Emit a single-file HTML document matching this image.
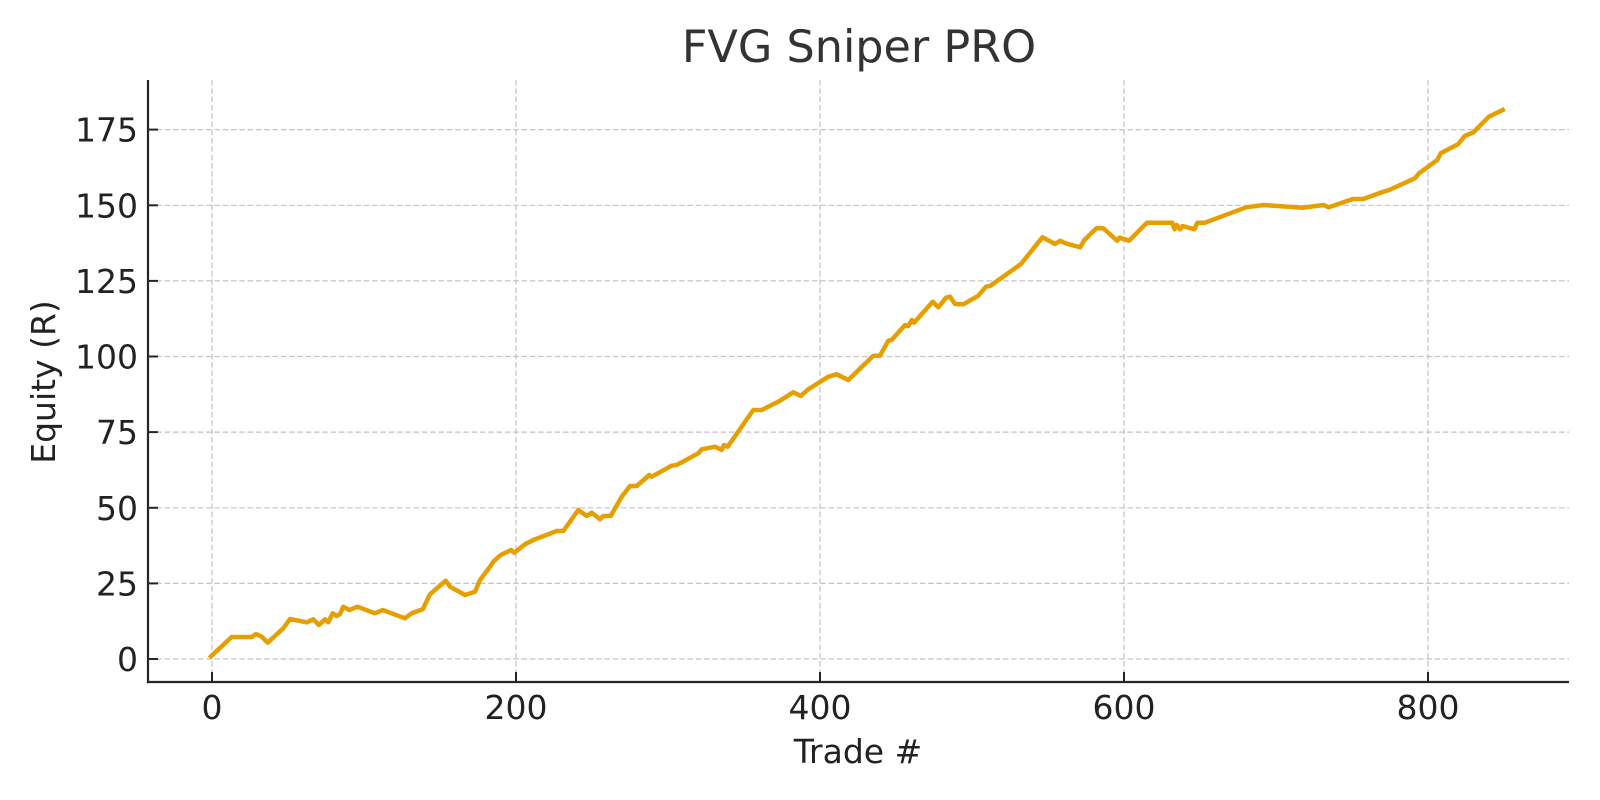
<!DOCTYPE html>
<html>
<head>
<meta charset="utf-8">
<style>
  html, body { margin: 0; padding: 0; background: #ffffff; }
  svg { display: block; }
  text { font-family: "DejaVu Sans", "Liberation Sans", sans-serif; }
</style>
</head>
<body>
<svg width="1600" height="800" viewBox="0 0 1600 800" xmlns="http://www.w3.org/2000/svg">
  <rect x="0" y="0" width="1600" height="800" fill="#ffffff"/>

  <!-- grid -->
  <g stroke="#c9bfcd" stroke-width="1.2" stroke-dasharray="5.5 2.8" fill="none">
    <line x1="212" y1="80" x2="212" y2="682"/>
    <line x1="516" y1="80" x2="516" y2="682"/>
    <line x1="820" y1="80" x2="820" y2="682"/>
    <line x1="1124" y1="80" x2="1124" y2="682"/>
    <line x1="1428" y1="80" x2="1428" y2="682"/>

    <line x1="148" y1="659" x2="1569" y2="659"/>
    <line x1="148" y1="583.4" x2="1569" y2="583.4"/>
    <line x1="148" y1="507.8" x2="1569" y2="507.8"/>
    <line x1="148" y1="432.1" x2="1569" y2="432.1"/>
    <line x1="148" y1="356.5" x2="1569" y2="356.5"/>
    <line x1="148" y1="280.9" x2="1569" y2="280.9"/>
    <line x1="148" y1="205.3" x2="1569" y2="205.3"/>
    <line x1="148" y1="129.6" x2="1569" y2="129.6"/>
  </g>

  <!-- equity line -->
  <polyline fill="none" stroke="#E69F00" stroke-width="4.5" stroke-linejoin="round" stroke-linecap="square"
    points="211,656.3 231.7,637 251.7,637 256,634 261.7,636.7 267.7,642.7 283.3,628.3 290,619 306.7,622.3 313.3,619.3 319,625 325,619.3 328.3,622.3 332.7,613.3 336.7,616 340,614 343.3,606.7 349.3,610 357.3,606.7 375,613.3 382.7,610 405,618.3 411.7,613.3 422.7,609.3 430,594.3 445.7,580.7 450,586.7 465,595 475,591.7 480,580 490,566.7 493.3,561.7 500.7,555 511,550 514.3,552.7 525,544.3 533.3,540 556.7,531 563.3,531 578.3,510 586.7,516 591.7,512.7 600,519.3 603.3,516 610.7,516 621.7,496.7 630,486 636.7,486 649.3,475 651.7,476.7 671.7,465.7 676.7,465 698.3,453.3 701.7,449.3 715,446.7 721.7,450 724,445 727.7,446.7 753.3,410 761.7,410 780,400.7 793.3,392.3 800.7,396 808.3,389.3 828.3,376.7 836.7,374.3 848.3,380 873.3,355.7 880,355.7 888.3,340.7 891.7,340 905,325 908.3,326 911.7,320 914,322.7 932.7,301.7 938.3,307.3 946,297.7 950,296.7 955,304 963.3,304.3 978.3,295.7 986,286.7 990,286 1021,264 1042.4,237.3 1055.1,244 1060.3,240.7 1065.4,243.3 1080.2,247.3 1084.4,240 1096.4,228.3 1103.3,228.3 1117.1,240.7 1119.5,237.7 1129.1,240.7 1147,222.7 1172.2,222.7 1174.6,229.3 1176.7,225 1180.1,229.3 1182.5,226 1194.5,229.3 1197.3,222.7 1204.9,222.7 1246.2,207.3 1263.4,205 1303,207.7 1323.7,205 1328.8,207.3 1352.9,199 1363.3,199 1380.5,192.7 1389.1,190 1414.9,178.3 1419,173.3 1437.3,160 1440.7,153.3 1458,144.3 1464.8,136 1473.5,132.3 1488.9,116.7 1502.7,110"/>

  <!-- spines -->
  <g stroke="#262626" stroke-width="2.2" fill="none">
    <line x1="148" y1="80" x2="148" y2="683.1"/>
    <line x1="146.9" y1="682" x2="1569" y2="682"/>
  </g>

  <!-- ticks (inward) -->
  <g stroke="#262626" stroke-width="2" fill="none">
    <line x1="212" y1="672" x2="212" y2="682"/>
    <line x1="516" y1="672" x2="516" y2="682"/>
    <line x1="820" y1="672" x2="820" y2="682"/>
    <line x1="1124" y1="672" x2="1124" y2="682"/>
    <line x1="1428" y1="672" x2="1428" y2="682"/>

    <line x1="148" y1="659" x2="158" y2="659"/>
    <line x1="148" y1="583.4" x2="158" y2="583.4"/>
    <line x1="148" y1="507.8" x2="158" y2="507.8"/>
    <line x1="148" y1="432.1" x2="158" y2="432.1"/>
    <line x1="148" y1="356.5" x2="158" y2="356.5"/>
    <line x1="148" y1="280.9" x2="158" y2="280.9"/>
    <line x1="148" y1="205.3" x2="158" y2="205.3"/>
    <line x1="148" y1="129.6" x2="158" y2="129.6"/>
  </g>

  <!-- x tick labels -->
  <g fill="#222222" font-size="33" text-anchor="middle">
    <text x="212" y="719">0</text>
    <text x="516" y="719">200</text>
    <text x="820" y="719">400</text>
    <text x="1124" y="719">600</text>
    <text x="1428" y="719">800</text>
  </g>

  <!-- y tick labels -->
  <g fill="#222222" font-size="33" text-anchor="end">
    <text x="138" y="671">0</text>
    <text x="138" y="595.4">25</text>
    <text x="138" y="519.8">50</text>
    <text x="138" y="444.1">75</text>
    <text x="138" y="368.5">100</text>
    <text x="138" y="292.9">125</text>
    <text x="138" y="217.3">150</text>
    <text x="138" y="141.6">175</text>
  </g>

  <!-- axis labels -->
  <text x="858" y="763" fill="#222222" font-size="33" text-anchor="middle">Trade #</text>
  <text transform="translate(55,382) rotate(-90)" x="0" y="0" fill="#222222" font-size="33" text-anchor="middle">Equity (R)</text>

  <!-- title -->
  <text x="859" y="62" fill="#333333" font-size="44.5" text-anchor="middle">FVG Sniper PRO</text>
</svg>
</body>
</html>
